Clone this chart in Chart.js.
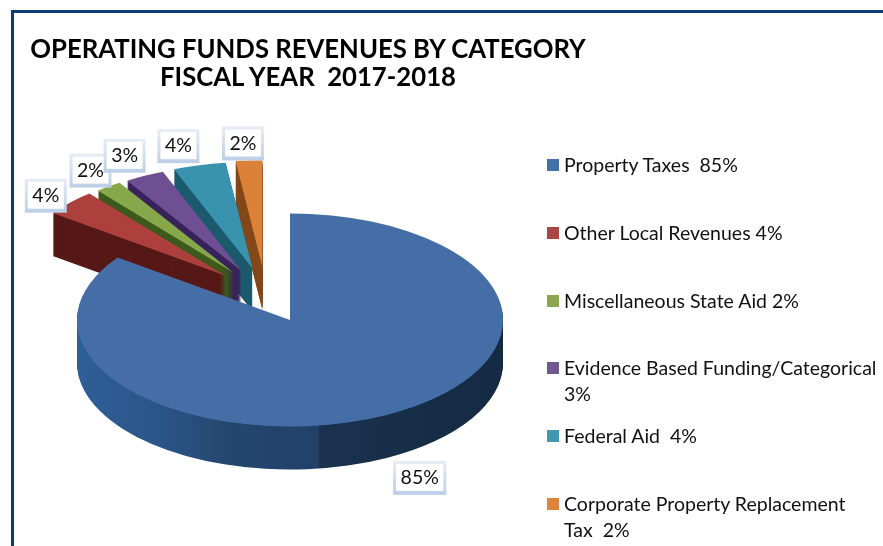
<!DOCTYPE html>
<html>
<head>
<meta charset="utf-8">
<title>Operating Funds Revenues</title>
<script src="https://cdn.jsdelivr.net/npm/chart.js@4"></script>
<style>
    html, body { margin: 0; padding: 0; background: #fff; overflow: hidden; }
    #page { position: relative; width: 883px; height: 546px; font-family: Lato, sans-serif; color: #111; }
    #frame { position: absolute; left: 11px; top: 10px; right: 0; bottom: 0; border-top: 3px solid #0d3b76; border-left: 3px solid #0d3b76; }
    #chart { position: absolute; left: 0; top: 0; }
    #title { position: absolute; left: 8px; top: 34px; width: 600px; text-align: center; font-size: 25.7px; line-height: 28px; font-weight: 700; white-space: pre; color: #000; }
    .legend-row { position: absolute; left: 547px; width: 336px; font-size: 19.5px; line-height: 26px; }
    .legend-box { position: absolute; left: 0; top: 7px; width: 12px; height: 12px; }
    .legend-text { position: absolute; left: 17px; width: 316px; white-space: pre-wrap; }
</style>
</head>
<body>
<div id="page">
    <div id="frame"></div>
    <canvas id="chart" width="883" height="546"></canvas>
    <div id="title">OPERATING FUNDS REVENUES BY CATEGORY
FISCAL YEAR  2017-2018</div>
    <div id="legend"></div>
</div>
<script>
const categories = ['Property Taxes ', 'Other Local Revenues', 'Miscellaneous State Aid', 'Evidence Based Funding/Categorical', 'Federal Aid ', 'Corporate Property Replacement\nTax '];
const values = [85, 4, 2, 3, 4, 2];
const topColors = ['#456ea6', '#ad403d', '#86a84a', '#6f4f94', '#3a93ae', '#dc8238'];
const wallColors = ['#1e3a5c', '#561917', '#3d5a1c', '#38245a', '#1a5a6c', '#84481a'];
const swatchColors = ['#4472a8', '#a94643', '#8aa64f', '#71588f', '#4198af', '#db843d'];
const labelNudgeX = [33, -24, -18, -20, -21, -6];
const labelNudgeY = [63, -7, -16, -20, -19, -17];
const legendTops = [152, 220, 288, 355, 423, 491];

const TILT = 0.5;
const DEPTH = 43;
const EXPLODE = 110;
const FAN = 0.5;

// fake 3D: squash the arcs, stack copies for the wall, fan the small slices out
const pie3d = {
    id: 'pie3d',
    beforeDatasetDraw(chart, args) {
        const ctx = chart.ctx;
        const arcs = args.meta.data;
        const mid = a => (a.startAngle + a.endAngle) / 2;
        const small = arcs.slice(1);
        const groupMid = small.reduce((s, a) => s + mid(a), 0) / small.length;
        const area = chart.chartArea;
        const wallFill = ctx.createLinearGradient(area.left, 0, area.right, 0);
        wallFill.addColorStop(0, '#2e5f98');
        wallFill.addColorStop(0.2, '#2a5587');
        wallFill.addColorStop(0.36, '#24466e');
        wallFill.addColorStop(0.565, '#22406a');
        wallFill.addColorStop(0.57, '#1a324e');
        wallFill.addColorStop(1, '#142a42');

        const paint = (arc, i, shift, color) => {
            const dir = mid(arc) * (1 - FAN) + groupMid * FAN;
            const out = i === 0 ? 0 : EXPLODE;
            const saved = arc.options;
            ctx.save();
            ctx.translate(arc.x, arc.y + shift);
            ctx.scale(1, TILT);
            ctx.translate(-arc.x + Math.cos(dir) * out, -arc.y + Math.sin(dir) * out);
            arc.options = Object.assign({}, saved, { backgroundColor: color, borderWidth: 0 });
            arc.draw(ctx);
            arc.options = saved;
            ctx.restore();
        };

        for (let i = arcs.length - 1; i >= 0; i--) {
            const wall = i === 0 ? wallFill : wallColors[i];
            for (let k = DEPTH; k > 0; k--) paint(arcs[i], i, k, wall);
            paint(arcs[i], i, 0, topColors[i]);
        }
        return false;
    },
    afterDatasetsDraw(chart) {
        const ctx = chart.ctx;
        const arcs = chart.getDatasetMeta(0).data;
        const small = arcs.slice(1);
        const groupMid = small.reduce((s, a) => s + (a.startAngle + a.endAngle) / 2, 0) / small.length;
        ctx.save();
        ctx.font = '19.5px Lato, sans-serif';
        ctx.textAlign = 'center';
        ctx.textBaseline = 'middle';
        values.forEach((v, i) => {
            const arc = arcs[i];
            const m = (arc.startAngle + arc.endAngle) / 2;
            const dir = m * (1 - FAN) + groupMid * FAN;
            const out = i === 0 ? 0 : EXPLODE;
            const x = arc.x + Math.cos(dir) * out + Math.cos(m) * arc.outerRadius + labelNudgeX[i];
            const y = arc.y + (Math.sin(dir) * out + Math.sin(m) * arc.outerRadius) * TILT + labelNudgeY[i];
            const text = v + '%';
            const w = ctx.measureText(text).width + 15;
            const h = 34;
            const edge = ctx.createLinearGradient(0, y - h / 2, 0, y + h / 2);
            edge.addColorStop(0, '#e6edf6');
            edge.addColorStop(1, '#bccfe6');
            ctx.fillStyle = edge;
            ctx.fillRect(x - w / 2, y - h / 2, w, h);
            ctx.fillStyle = '#fff';
            ctx.fillRect(x - w / 2 + 3, y - h / 2 + 3, w - 6, h - 7);
            ctx.fillStyle = '#111';
            ctx.fillText(text, x, y);
        });
        ctx.restore();
    }
};

new Chart(document.getElementById('chart').getContext('2d'), {
    type: 'pie',
    data: {
        labels: categories,
        datasets: [{ data: values, backgroundColor: topColors, borderWidth: 0 }]
    },
    options: {
        responsive: false,
        animation: false,
        layout: { padding: { left: 77, right: 380, top: 107, bottom: 13 } },
        plugins: { legend: { display: false }, tooltip: { enabled: false } }
    },
    plugins: [pie3d]
});

const legend = document.getElementById('legend');
categories.forEach((name, i) => {
    const row = document.createElement('div');
    row.className = 'legend-row';
    row.style.top = legendTops[i] + 'px';
    const box = document.createElement('div');
    box.className = 'legend-box';
    box.style.background = swatchColors[i];
    const text = document.createElement('div');
    text.className = 'legend-text';
    text.textContent = name + ' ' + values[i] + '%';
    row.appendChild(box);
    row.appendChild(text);
    legend.appendChild(row);
});
</script>
</body>
</html>
